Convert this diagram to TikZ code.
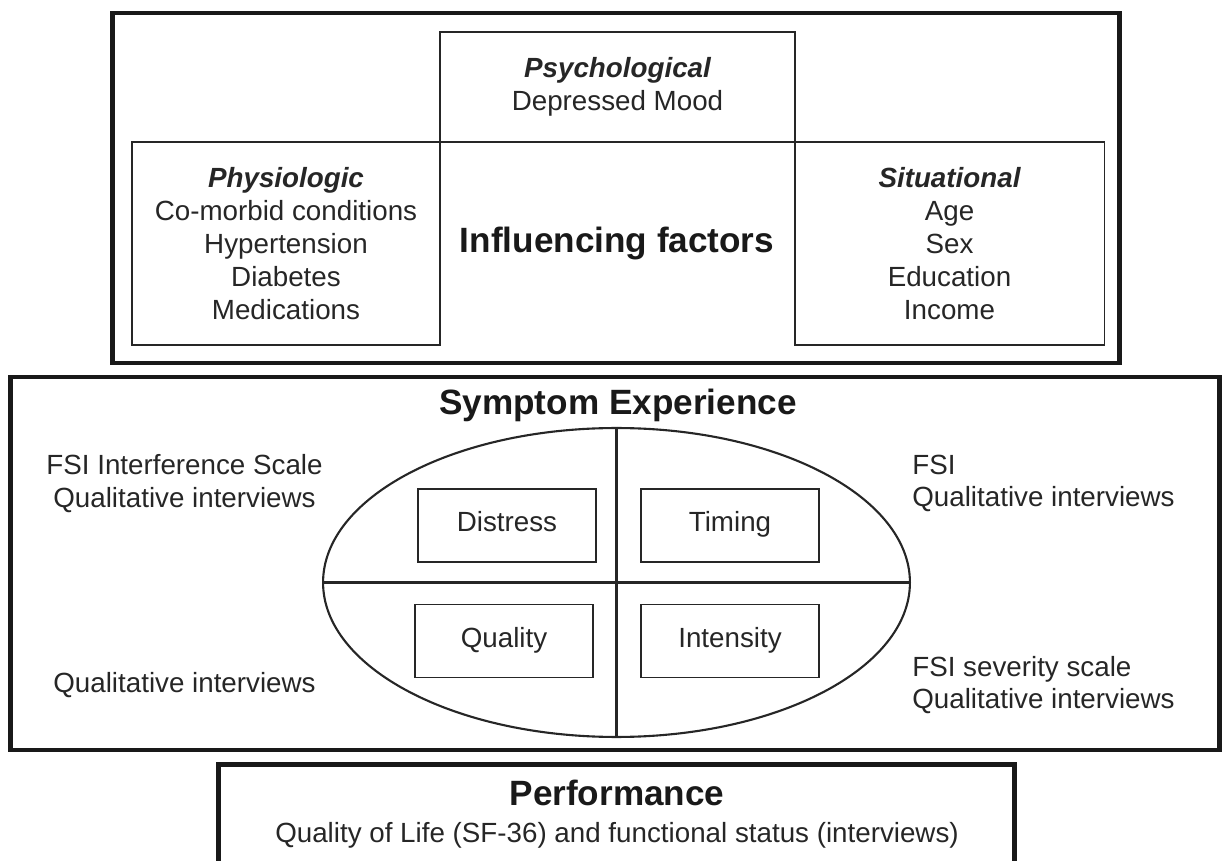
\documentclass[tikz,border=0pt]{standalone}
\usepackage{fontspec}
\setmainfont{Liberation Sans}
\usetikzlibrary{shapes.geometric}
\newcommand{\bodysize}{\fontsize{15.8}{18.7}\selectfont}
\newcommand{\headsize}{\fontsize{20}{24}\selectfont}
\tikzset{
  frame/.style={draw=black!90,line width=2.8pt,inner sep=0pt},
  cell/.style={draw=black!85,line width=1.1pt,inner sep=0pt,font=\bodysize,align=center,text=black!85},
  dimbox/.style={cell,minimum width=3.56cm,minimum height=1.46cm,text height=2ex,text depth=.6ex},
  txt/.style={font=\bodysize,align=center,text=black!85,inner sep=0pt},
  head/.style={font=\headsize\bfseries,text=black!90,inner sep=0pt}
}

\begin{document}
\begin{tikzpicture}[x=0.02cm,y=-0.02cm]
  \useasboundingbox (0,0) rectangle (1225,861);
  \clip (0,0) rectangle (1225,861);
  % influencing factors
  \node[frame,minimum width=20.16cm,minimum height=7cm] (factors) at (616,188) {};
  \node[cell,minimum width=7.1cm,minimum height=2.2cm] (psych) at (617.5,87) {{\bfseries\itshape Psychological}\\Depressed Mood};
  \node[cell,minimum width=6.16cm,minimum height=4.06cm] (physio) at (286,243.5) {{\bfseries\itshape Physiologic}\\Co-morbid conditions\\Hypertension\\Diabetes\\Medications};
  \node[cell,minimum width=6.2cm,minimum height=4.06cm] (situ) at (949.5,243.5) {{\bfseries\itshape Situational}\\Age\\Sex\\Education\\Income};
  \node[head] (infl) at (617,243) {Influencing factors};
  % symptom experience
  \node[frame,minimum width=24.2cm,minimum height=7.46cm] (symptom) at (615,563.5) {};
  \node[head] (symptitle) at (618,405) {Symptom Experience};
  \node[draw=black!85,ellipse,line width=1.2pt,inner sep=0pt,minimum width=11.74cm,minimum height=6.18cm] (oval) at (616.5,582.5) {};
  \draw[line width=1.2pt,draw=black!85] (oval.north) -- (oval.south);
  \draw[line width=1.2pt,draw=black!85] (oval.west) -- (oval.east);
  \node[dimbox] (distress) at (507,525.5) {Distress};
  \node[dimbox] (timing) at (730,525.5) {Timing};
  \node[dimbox] (quality) at (504,641) {Quality};
  \node[dimbox] (intensity) at (730,641) {Intensity};
  \node[txt] (noteDistress) at (184.5,483.5) {FSI Interference Scale\\Qualitative interviews};
  \node[txt] (noteQuality) at (184.5,685) {Qualitative interviews};
  \node[txt,anchor=west,align=left] (noteTiming) at (912,483.5) {FSI\\Qualitative interviews};
  \node[txt,anchor=west,align=left] (noteIntensity) at (912,685) {FSI severity scale\\Qualitative interviews};
  % performance
  \node[frame,minimum width=15.94cm,minimum height=2.3cm] (perf) at (616.5,822) {};
  \node[head] (perftitle) at (617,793) {Performance};
  \node[txt] (perfnote) at (617,835) {Quality of Life (SF-36) and functional status (interviews)};
\end{tikzpicture}
\end{document}
